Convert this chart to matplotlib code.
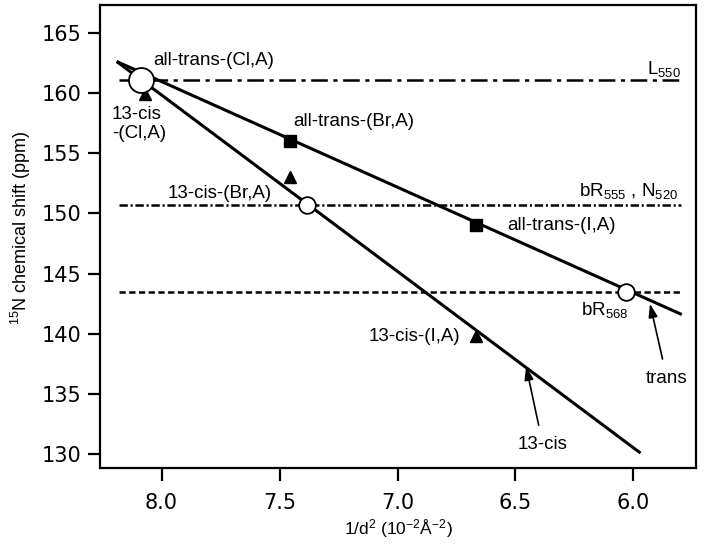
import matplotlib
matplotlib.use("Agg")
import matplotlib.pyplot as plt

plt.rcParams['font.family'] = ['Liberation Sans', 'DejaVu Sans']
plt.rcParams['mathtext.fontset'] = 'custom'
plt.rcParams['mathtext.rm'] = 'Liberation Sans'
plt.rcParams['mathtext.it'] = 'Liberation Sans:italic'
plt.rcParams['lines.scale_dashes'] = False

# data (x = 1/d^2 in 10^-2 A^-2, y = 15N shift in ppm)
trans_x = [8.085, 7.455, 6.667]
trans_y = [161.1, 156.0, 149.0]
cis_x = [8.07, 7.455, 6.667]
cis_y = [159.9, 153.0, 139.8]

# fitted lines (end points)
trans_fit_x = [8.19, 5.795]
trans_fit_y = [162.6, 141.6]
cis_fit_x = [8.19, 5.97]
cis_fit_y = [162.6, 130.1]

# protein states (horizontal reference lines)
state_y = [161.1, 150.7, 143.5]
state_x = [8.18, 5.80]

# intersections marked with open circles
big_circle = (8.085, 161.1)
small_circles_x = [7.385, 6.03]
small_circles_y = [150.7, 143.5]

fig = plt.figure(figsize=(7.06, 5.44), dpi=100)
ax = fig.add_axes([0.1416, 0.1392, 0.8442, 0.8516])

# reference lines
ax.plot(state_x, [state_y[0]] * 2, color='k', lw=1.8, dashes=(12, 4, 3, 4))
ax.plot(state_x, [state_y[1]] * 2, color='k', lw=1.8, dashes=(6, 2, 1.5, 2))
ax.plot(state_x, [state_y[2]] * 2, color='k', lw=1.8, dashes=(4.5, 2.5))

# fit lines
ax.plot(trans_fit_x, trans_fit_y, color='k', lw=2.2, solid_capstyle='butt')
ax.plot(cis_fit_x, cis_fit_y, color='k', lw=2.2, solid_capstyle='butt')

# data points
ax.plot(cis_x, cis_y, ls='none', marker='^', ms=8, color='k')
ax.plot(trans_x[1:], trans_y[1:], ls='none', marker='s', ms=8.5, color='k')
ax.plot(small_circles_x, small_circles_y, ls='none', marker='o', ms=12,
        mfc='white', mec='k', mew=1.3)
ax.plot([big_circle[0]], [big_circle[1]], ls='none', marker='o', ms=18,
        mfc='white', mec='k', mew=1.3, zorder=5)

fs = 13.5
ax.text(8.037, 162.72, 'all-trans-(Cl,A)', fontsize=fs, ha='left', va='center')
ax.text(8.21, 158.2, '13-cis', fontsize=fs, ha='left', va='center')
ax.text(8.21, 156.65, '-(Cl,A)', fontsize=fs, ha='left', va='center')
ax.text(7.44, 157.65, 'all-trans-(Br,A)', fontsize=fs, ha='left', va='center')
ax.text(7.973, 151.66, '13-cis-(Br,A)', fontsize=fs, ha='left', va='center')
ax.text(6.535, 149.0, 'all-trans-(I,A)', fontsize=fs, ha='left', va='center')
ax.text(6.735, 139.8, '13-cis-(I,A)', fontsize=fs, ha='right', va='center')
ax.text(5.80, 161.95, 'L$_{550}$', fontsize=fs, ha='right', va='center')
ax.text(5.81, 151.85, 'bR$_{555}$ , N$_{520}$', fontsize=fs, ha='right', va='center')
ax.text(6.12, 142.0, 'bR$_{568}$', fontsize=fs, ha='center', va='center')

# pointer labels
ax.annotate('13-cis', xy=(6.455, 137.3), xytext=(6.384, 130.8), fontsize=fs,
            ha='center', va='center',
            arrowprops=dict(arrowstyle='-|>,head_length=0.6,head_width=0.2',
                            color='k', lw=1.2, shrinkA=6, shrinkB=0))
ax.annotate('trans', xy=(5.93, 142.5), xytext=(5.858, 136.3), fontsize=fs,
            ha='center', va='center',
            arrowprops=dict(arrowstyle='-|>,head_length=0.6,head_width=0.2',
                            color='k', lw=1.2, shrinkA=6, shrinkB=0))

ax.set_xlim(8.261, 5.735)
ax.set_ylim(128.84, 167.29)
ax.set_xticks([8.0, 7.5, 7.0, 6.5, 6.0])
ax.set_xticklabels(['8.0', '7.5', '7.0', '6.5', '6.0'])
ax.set_yticks([130, 135, 140, 145, 150, 155, 160, 165])

for sp in ax.spines.values():
    sp.set_linewidth(1.6)
ax.tick_params(axis='both', direction='out', length=9, width=1.6,
               labelsize=15, labelfontfamily='DejaVu Sans')
ax.tick_params(axis='x', pad=9)
ax.tick_params(axis='y', pad=4)

ax.set_xlabel('1/d$^2$ (10$^{-2}$Å$^{-2}$)', fontsize=12.5, labelpad=3)
ax.set_ylabel('$^{15}$N chemical shift (ppm)', fontsize=13)
ax.yaxis.set_label_coords(-0.113, 0.519)

fig.savefig('out.png', dpi=100)
